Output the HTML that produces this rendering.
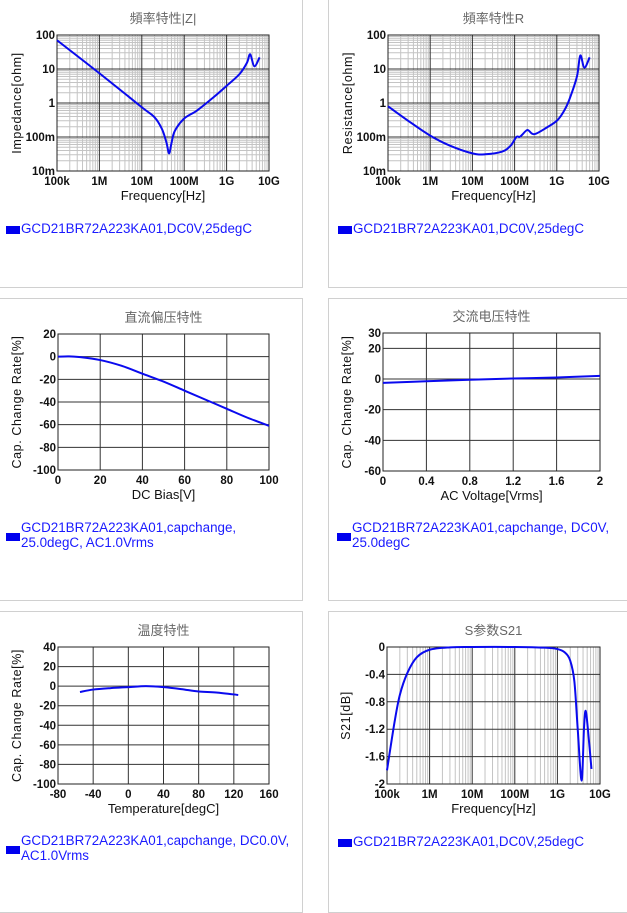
<!DOCTYPE html>
<html><head><meta charset="utf-8">
<style>
html,body{margin:0;padding:0;background:#fff;width:627px;height:910px;overflow:hidden;font-family:"Liberation Sans","Noto Sans CJK SC",sans-serif}
.panel{position:absolute;border:1px solid #d0d0d0;box-sizing:border-box}
.legend{position:absolute;font-size:13.4px;color:#1a1aff;line-height:14.5px;padding-left:15px}
.legend .sq{position:absolute;left:0;width:14px;height:8px;background:#0000ee}
svg{position:absolute;left:0;top:0}
</style></head><body>
<div class="panel" style="left:-1px;top:-1px;width:304px;height:289px"></div>
<div class="panel" style="left:328px;top:-1px;width:302px;height:289px"></div>
<div class="panel" style="left:-1px;top:298px;width:304px;height:303px"></div>
<div class="panel" style="left:328px;top:298px;width:302px;height:303px"></div>
<div class="panel" style="left:-1px;top:611px;width:304px;height:302px"></div>
<div class="panel" style="left:328px;top:611px;width:302px;height:302px"></div>

<div class="legend" style="left:6px;top:222px"><span class="sq" style="top:4px"></span>GCD21BR72A223KA01,DC0V,25degC</div>
<div class="legend" style="left:338px;top:222px"><span class="sq" style="top:4px"></span>GCD21BR72A223KA01,DC0V,25degC</div>
<div class="legend" style="left:6px;top:521px"><span class="sq" style="top:12px"></span>GCD21BR72A223KA01,capchange,<br>25.0degC, AC1.0Vrms</div>
<div class="legend" style="left:337px;top:521px"><span class="sq" style="top:12px"></span>GCD21BR72A223KA01,capchange, DC0V,<br>25.0degC</div>
<div class="legend" style="left:6px;top:834px"><span class="sq" style="top:12px"></span>GCD21BR72A223KA01,capchange, DC0.0V,<br>AC1.0Vrms</div>
<div class="legend" style="left:338px;top:835px"><span class="sq" style="top:4px"></span>GCD21BR72A223KA01,DC0V,25degC</div>

<svg id="svg" width="627" height="910" xmlns="http://www.w3.org/2000/svg"></svg>
<script>
// ---- data ----
const zFreq = [1e5,1e6,1e7,2e7,3e7,3.8e7,4.4e7,5e7,6e7,1e8,2e8,5e8,1e9,2e9,3e9,3.6e9,4.5e9,6e9];
const zVals = [70,7.5,0.75,0.38,0.17,0.07,0.033,0.065,0.15,0.35,0.6,1.5,3.2,7,15,27,12,22];
const rFreq = [1e5,3e5,1e6,3e6,1e7,2e7,5e7,8e7,1.1e8,1.3e8,1.5e8,2e8,2.6e8,3.2e8,5e8,1e9,1.5e9,2e9,3e9,3.6e9,4.5e9,6e9];
const rVals = [0.8,0.3,0.11,0.055,0.033,0.031,0.037,0.055,0.1,0.1,0.115,0.16,0.125,0.125,0.17,0.3,0.6,1.3,6,25,11,22];
const dcV = [0,5,10,20,30,40,50,60,70,80,90,100];
const dcVals = [0,0.3,-0.3,-3,-8,-15,-22,-30,-38,-46,-54,-61];
const acV = [0,0.4,0.8,1.2,1.6,2];
const acVals = [-2.5,-1.5,-0.5,0.3,1.0,2];
const tempC = [-55,-40,-20,0,20,40,60,80,100,125];
const tempVals = [-6,-3.5,-2,-1,0,-1,-3,-5.5,-6.5,-9];
const sFreq = [1e5,1.5e5,2e5,3e5,5e5,1e6,3e6,1e7,1e8,5e8,1e9,1.5e9,2e9,2.5e9,3e9,3.7e9,4.2e9,4.6e9,5.2e9,6.3e9];
const sVals = [-1.8,-1.1,-0.7,-0.38,-0.15,-0.04,-0.005,0,0,-0.01,-0.03,-0.08,-0.2,-0.5,-1.2,-1.95,-1.2,-0.93,-1.2,-1.78];
const freqTicks = ['100k','1M','10M','100M','1G','10G'];
const zTicks = ['100','10','1','100m','10m'];
const dcTicks = ['20','0','-20','-40','-60','-80','-100'];
const dcXTicks = ['0','20','40','60','80','100'];
const acYTicks = ['30','20','0','-20','-40','-60'];
const acXTicks = ['0','0.4','0.8','1.2','1.6','2'];
const tYTicks = ['40','20','0','-20','-40','-60','-80','-100'];
const tXTicks = ['-80','-40','0','40','80','120','160'];
const sYTicks = ['0','-0.4','-0.8','-1.2','-1.6','-2'];

const svg = document.getElementById('svg');
const NS = 'http://www.w3.org/2000/svg';
function mk(tag, attrs, parent){const e=document.createElementNS(NS,tag);for(const k in attrs)e.setAttribute(k,attrs[k]);(parent||svg).appendChild(e);return e;}
function txt(s,x,y,attrs){const t=mk('text',Object.assign({x:x,y:y},attrs));t.textContent=s;return t;}

function chart(c){
  const g = mk('g',{});
  
  
  const {x0,x1,y0,y1} = c;
  const fx = c.xlog ? (v)=>x0+(Math.log10(v)-Math.log10(c.xmin))/(Math.log10(c.xmax)-Math.log10(c.xmin))*(x1-x0)
                    : (v)=>x0+(v-c.xmin)/(c.xmax-c.xmin)*(x1-x0);
  const fy = c.ylog ? (v)=>y1-(Math.log10(v)-Math.log10(c.ymin))/(Math.log10(c.ymax)-Math.log10(c.ymin))*(y1-y0)
                    : (v)=>y1-(v-c.ymin)/(c.ymax-c.ymin)*(y1-y0);
  mk('rect',{x:x0,y:y0,width:x1-x0,height:y1-y0,fill:'#fff'},g);
  if(c.xlog){
    for(let d=Math.log10(c.xmin);d<Math.log10(c.xmax);d++)for(let m=2;m<10;m++){const x=fx(m*Math.pow(10,d));
      mk('line',{x1:x,x2:x,y1:y0,y2:y1,stroke:'#c4c4c4','stroke-width':1},g);}
  }
  if(c.ylog){
    for(let d=Math.log10(c.ymin);d<Math.log10(c.ymax);d++)for(let m=2;m<10;m++){const y=fy(m*Math.pow(10,d));
      mk('line',{x1:x0,x2:x1,y1:y,y2:y,stroke:'#c4c4c4','stroke-width':1},g);}
  }
  c.xTickVals.forEach((v,i)=>{const x=fx(v);
    mk('line',{x1:x,x2:x,y1:y0,y2:y1,stroke:'#333','stroke-width':1},g);
    const t=txt(c.xTicks[i],x,y1+14,{'font-size':11.5,'font-weight':'bold','text-anchor':'middle',fill:'#111'});g.appendChild(t);
    
    
  });
  c.yTickVals.forEach((v,i)=>{const y=fy(v);
    mk('line',{x1:x0,x2:x1,y1:y,y2:y,stroke:'#333','stroke-width':1},g);
    const t=txt(c.yTicks[i],x0-2,y+4,{'font-size':11.5,'font-weight':'bold','text-anchor':'end',fill:'#111'});g.appendChild(t);
    
    
  });
  mk('rect',{x:x0,y:y0,width:x1-x0,height:y1-y0,fill:'none',stroke:'#222','stroke-width':1},g);
  const pts=c.xs.map((v,i)=>[fx(v),fy(c.ys[i])]);
  let d='M'+pts[0][0]+','+pts[0][1];
  for(let i=0;i<pts.length-1;i++){
    const p0=pts[Math.max(0,i-1)],p1=pts[i],p2=pts[i+1],p3=pts[Math.min(pts.length-1,i+2)];
    const k=6;
    d+=' C'+(p1[0]+(p2[0]-p0[0])/k)+','+(p1[1]+(p2[1]-p0[1])/k)+' '+(p2[0]-(p3[0]-p1[0])/k)+','+(p2[1]-(p3[1]-p1[1])/k)+' '+p2[0]+','+p2[1];
  }
  const path=mk('path',{d:d,fill:'none',stroke:'#0a0aee','stroke-width':2,'stroke-linejoin':'round'},g);
  
  
  const tt=txt(c.title,(x0+x1)/2,y0-12,{'font-size':13,'text-anchor':'middle',fill:'#666'});g.appendChild(tt);
  
  
  const xt=txt(c.xTitle,(x0+x1)/2,y1+29,{'font-size':13,'text-anchor':'middle',fill:'#111'});g.appendChild(xt);
  
  
  const yx=c.yTitleX, yc=(y0+y1)/2;
  const yt=txt(c.yTitle,yx,yc,{'font-size':12.5,'text-anchor':'middle',fill:'#111','letter-spacing':'0.6',transform:'rotate(-90 '+yx+' '+yc+')'});g.appendChild(yt);
  
  
}
const fTickVals=[1e5,1e6,1e7,1e8,1e9,1e10];
chart({name:'impedance-chart',title:'頻率特性|Z|',x0:57,x1:269,y0:35,y1:171,xlog:true,ylog:true,xmin:1e5,xmax:1e10,ymin:0.01,ymax:100,
  xTickVals:fTickVals,xTicks:freqTicks,yTickVals:[100,10,1,0.1,0.01],yTicks:zTicks,xs:zFreq,ys:zVals,xTitle:'Frequency[Hz]',yTitle:'Impedance[ohm]',yTitleX:21});
chart({name:'resistance-chart',title:'頻率特性R',x0:388,x1:599,y0:35,y1:171,xlog:true,ylog:true,xmin:1e5,xmax:1e10,ymin:0.01,ymax:100,
  xTickVals:fTickVals,xTicks:freqTicks,yTickVals:[100,10,1,0.1,0.01],yTicks:zTicks,xs:rFreq,ys:rVals,xTitle:'Frequency[Hz]',yTitle:'Resistance[ohm]',yTitleX:352});
chart({name:'dc-bias-chart',title:'直流偏压特性',x0:58,x1:269,y0:334,y1:470,xmin:0,xmax:100,ymin:-100,ymax:20,
  xTickVals:[0,20,40,60,80,100],xTicks:dcXTicks,yTickVals:[20,0,-20,-40,-60,-80,-100],yTicks:dcTicks,xs:dcV,ys:dcVals,xTitle:'DC Bias[V]',yTitle:'Cap. Change Rate[%]',yTitleX:21});
chart({name:'ac-voltage-chart',title:'交流电压特性',x0:383,x1:600,y0:333,y1:471,xmin:0,xmax:2,ymin:-60,ymax:30,
  xTickVals:[0,0.4,0.8,1.2,1.6,2],xTicks:acXTicks,yTickVals:[30,20,0,-20,-40,-60],yTicks:acYTicks,xs:acV,ys:acVals,xTitle:'AC Voltage[Vrms]',yTitle:'Cap. Change Rate[%]',yTitleX:351});
chart({name:'temperature-chart',title:'温度特性',x0:58,x1:269,y0:647,y1:784,xmin:-80,xmax:160,ymin:-100,ymax:40,
  xTickVals:[-80,-40,0,40,80,120,160],xTicks:tXTicks,yTickVals:[40,20,0,-20,-40,-60,-80,-100],yTicks:tYTicks,xs:tempC,ys:tempVals,xTitle:'Temperature[degC]',yTitle:'Cap. Change Rate[%]',yTitleX:21});
chart({name:'s21-chart',title:'S参数S21',x0:387,x1:600,y0:647,y1:784,xlog:true,xmin:1e5,xmax:1e10,ymin:-2,ymax:0,
  xTickVals:fTickVals,xTicks:freqTicks,yTickVals:[0,-0.4,-0.8,-1.2,-1.6,-2],yTicks:sYTicks,xs:sFreq,ys:sVals,xTitle:'Frequency[Hz]',yTitle:'S21[dB]',yTitleX:350});
</script>
</body></html>
